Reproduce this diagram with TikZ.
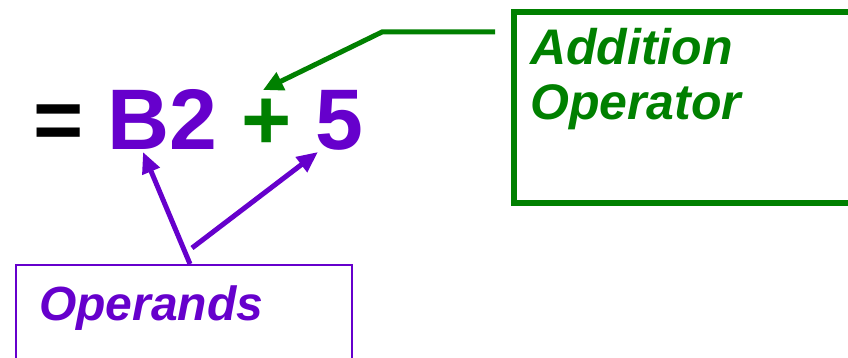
\documentclass[tikz,border=0pt]{standalone}
\usepackage{fontspec}
\setmainfont{Liberation Sans}
\usetikzlibrary{arrows.meta}
\definecolor{oppurple}{RGB}{102,0,204}
\definecolor{addgreen}{RGB}{0,128,0}
\tikzset{
  formula/.style={inner sep=0pt, anchor=base west, font=\fontsize{86}{90}\selectfont\bfseries},
  labeltext/.style={inner sep=0pt, anchor=base west, align=left, font=\itshape\bfseries},
  addframe/.style={draw=addgreen, line width=6pt, inner sep=0pt, anchor=north west},
  opframe/.style={draw=oppurple, line width=2pt, inner sep=0pt, anchor=north west},
  greenarrow/.style={draw=addgreen, line width=5pt, -{Triangle[length=20pt,width=19pt]}},
  purplearrow/.style={draw=oppurple, line width=5pt, -{Triangle[length=21pt,width=18pt]}}
}
\begin{document}
\begin{tikzpicture}[x=1pt,y=-1pt]
  \useasboundingbox (0,0) rectangle (848,358);
  \clip (0,0) rectangle (848,358);

  % the formula
  \node[formula] (formula) at (33,150)
    {=\ {\color{oppurple}B2}\ {\color{addgreen}+}\ {\color{oppurple}5}};

  % callout for the operator (base anchor sits on the last line)
  \node[addframe, minimum width=360pt, minimum height=191pt] (addbox) at (511,9) {};
  \node[labeltext, text=addgreen, font=\itshape\bfseries\fontsize{50}{55}\selectfont]
    (addtext) at (530,120) {Addition\\Operator};

  % callout for the operands
  \node[opframe, minimum width=336pt, minimum height=130pt] (opbox) at (15,264) {};
  \node[labeltext, text=oppurple, font=\itshape\bfseries\fontsize{48}{52}\selectfont]
    (optext) at (39,320) {Operands};

  % arrow end points
  \coordinate (addfrom) at (495,32);
  \coordinate (addbend) at (382,32);
  \coordinate (plustip) at (263,90);
  \coordinate (opfromA) at (190,264);
  \coordinate (opfromB) at (192,248);
  \coordinate (btip) at (143,152);
  \coordinate (fivetip) at (318,152);

  % connectors
  \draw[greenarrow] (addfrom) -- (addbend) -- (plustip);
  \draw[purplearrow] (opfromA) -- (btip);
  \draw[purplearrow] (opfromB) -- (fivetip);
\end{tikzpicture}
\end{document}
